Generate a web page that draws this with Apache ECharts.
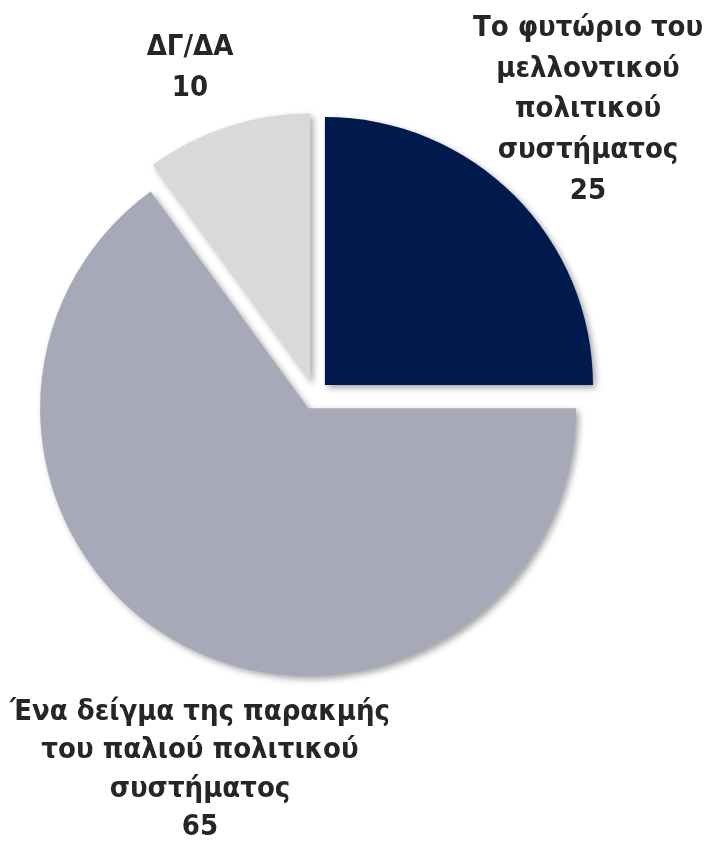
<!DOCTYPE html>
<html>
<head>
<meta charset="utf-8">
<script src="https://cdn.jsdelivr.net/npm/echarts@6/dist/echarts.min.js"></script>
<style>
html,body{margin:0;padding:0;background:#fff;}
#chart{width:705px;height:843px;}
</style>
</head>
<body>
<div id="chart"></div>
<script>
var categories = [
  'Το φυτώριο του\nμελλοντικού\nπολιτικού\nσυστήματος',
  'Ένα δείγμα της παρακμής\nτου παλιού πολιτικού\nσυστήματος',
  'ΔΓ/ΔΑ'
];
var values = [25, 65, 10];
var colors = ['#011A4E', '#A8A9B8', '#D9D9D9'];

var labelPos = [
  {x: 588, y: 8, lh: 40.75},
  {x: 200, y: 693, lh: 38.5},
  {x: 190, y: 27, lh: 41}
];

var chart = echarts.init(document.getElementById('chart'), null, {renderer: 'canvas'});
var fontFam = "'Liberation Sans Narrow', 'Arial Narrow', 'DejaVu Sans Condensed', 'Liberation Sans', Arial, sans-serif";
var center = [314.7, 395.3];
var radius = 268;

chart.setOption({
  animation: false,
  backgroundColor: '#ffffff',
  series: [{
    type: 'pie',
    center: center,
    radius: [0, radius],
    startAngle: 90,
    clockwise: true,
    selectedMode: 'multiple',
    selectedOffset: 14.5,
    silent: true,
    data: categories.map(function (c, i) {
      return {
        name: c,
        value: values[i],
        selected: true,
        itemStyle: {
          color: colors[i],
          shadowBlur: 6,
          shadowOffsetX: 3,
          shadowOffsetY: 3,
          shadowColor: 'rgba(0,0,0,0.35)'
        }
      };
    }),
    label: {show: false},
    labelLine: {show: false},
    emphasis: {disabled: true}
  }, {
    type: 'pie',
    center: center,
    radius: [0, radius],
    startAngle: 90,
    clockwise: true,
    silent: true,
    z: 10,
    data: categories.map(function (c, i) {
      return {
        name: c,
        value: values[i],
        itemStyle: {color: 'rgba(0,0,0,0)'},
        label: {lineHeight: labelPos[i].lh}
      };
    }),
    label: {
      show: true,
      position: 'outside',
      formatter: '{b}\n{c}',
      fontFamily: fontFam,
      fontWeight: 'bold',
      fontSize: 29,
      color: '#262626',
      align: 'center',
      overflow: 'none',
      width: 400
    },
    labelLine: {show: false},
    labelLayout: function (params) {
      var p = labelPos[params.dataIndex];
      return {x: p.x, y: p.y, align: 'center', verticalAlign: 'top'};
    },
    emphasis: {disabled: true}
  }]
});
</script>
</body>
</html>
